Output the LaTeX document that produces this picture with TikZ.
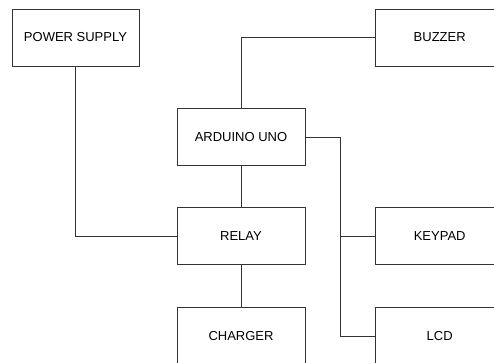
\documentclass[tikz,border=0pt]{standalone}
\usepackage{fontspec}
\setmainfont{Liberation Sans}

\begin{document}
\begin{tikzpicture}[x=1pt, y=-1pt,
  block/.style={draw=black!80, line width=0.9pt, fill=white, minimum width=128pt, minimum height=57pt, inner sep=0pt, font=\fontsize{13}{15}\selectfont},
  wire/.style={draw=black!80, line width=0.9pt}]
\clip (0,0) rectangle (494,362);
\fill[white] (0,0) rectangle (494,362);
\node[block, minimum width=127pt] (power) at (75.5,37.5) {POWER SUPPLY};
\node[block] (buzzer) at (439.7,37.5) {BUZZER};
\node[block] (arduino) at (241,137) {ARDUINO UNO};
\node[block] (relay) at (241,236.3) {RELAY};
\node[block] (keypad) at (439.7,236.3) {KEYPAD};
\node[block] (charger) at (241,336) {CHARGER};
\node[block] (lcd) at (439.7,336) {LCD};
\coordinate (split) at (340.3,236.3);
\draw[wire] (power.south) |- (relay.west);
\draw[wire] (arduino.north) |- (buzzer.west);
\draw[wire] (arduino.south) -- (relay.north);
\draw[wire] (relay.south) -- (charger.north);
\draw[wire] (arduino.east) -| (split) |- (lcd.west);
\draw[wire] (split) -- (keypad.west);
\end{tikzpicture}
\end{document}
